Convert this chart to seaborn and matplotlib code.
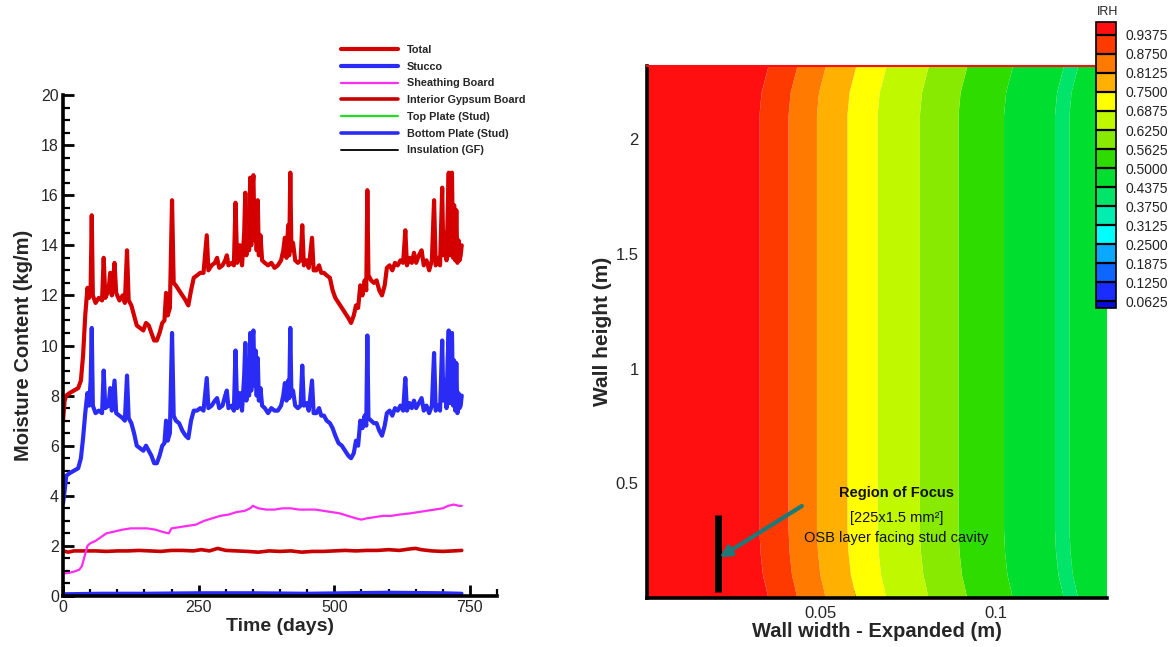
import numpy as np
import pandas as pd
import matplotlib
matplotlib.use("Agg")
import matplotlib.pyplot as plt
import seaborn as sns
from matplotlib.lines import Line2D
from matplotlib.ticker import MultipleLocator, FixedLocator, FuncFormatter
from matplotlib.colors import ListedColormap, BoundaryNorm
from matplotlib.cm import ScalarMappable

# ---------------- data: left panel (moisture content vs time) ----------------
days_main = [0, 3, 6, 12, 20, 28, 33, 37, 41, 45, 48, 51, 53, 55, 60, 66, 72, 75, 78, 84,
             87, 90, 95, 98, 104, 110, 114, 118, 121, 126, 131, 136, 142, 148, 153, 158, 163,
             168, 173, 178, 183, 187, 190, 193, 197, 201, 204, 208, 214, 220, 226, 231, 236,
             241, 247, 253, 259, 265, 268, 274, 280, 284, 288, 294, 299, 302, 305, 311, 315,
             318, 321, 326, 330, 334, 336, 338, 341, 343, 345, 347, 349, 351, 353, 355, 357,
             359, 361, 364, 367, 372, 378, 384, 390, 396, 402, 406, 409, 412, 415, 417, 419,
             421, 424, 428, 433, 438, 441, 444, 449, 453, 459, 462, 467, 472, 476, 481, 486,
             492, 497, 502, 508, 514, 520, 526, 531, 536, 540, 544, 548, 552, 556, 559, 561,
             563, 568, 573, 578, 583, 588, 593, 597, 602, 607, 612, 617, 622, 627, 631, 634,
             639, 643, 647, 651, 656, 661, 665, 670, 675, 680, 684, 687, 691, 695, 699, 701,
             704, 707, 709, 711, 713, 715, 717, 719, 721, 723, 725, 727, 729, 731, 733, 735]
total = [7.0, 7.8, 8.0, 8.1, 8.2, 8.3, 8.6, 9.6, 11.2, 12.3, 11.9, 12.4, 15.2, 12.0, 11.7, 11.9,
         11.8, 13.5, 11.9, 12.2, 12.9, 12.0, 13.3, 12.1, 11.8, 12.0, 11.7, 13.8, 11.8, 11.6,
         11.2, 10.8, 10.7, 10.6, 10.9, 10.8, 10.5, 10.2, 10.2, 10.5, 10.9, 11.0, 12.1, 11.2,
         11.5, 15.8, 12.5, 12.4, 12.2, 12.0, 11.8, 11.6, 12.2, 12.7, 12.8, 12.9, 12.9, 14.4,
         13.0, 13.2, 13.3, 13.5, 13.1, 13.2, 13.4, 13.6, 13.2, 13.3, 13.2, 15.7, 13.3, 14.0,
         13.2, 14.5, 16.1, 13.6, 15.2, 13.8, 16.7, 14.0, 16.2, 16.8, 14.2, 15.6, 13.8, 15.8,
         13.6, 14.4, 13.4, 13.3, 13.2, 13.3, 13.1, 13.2, 13.4, 13.8, 14.3, 13.5, 14.8, 13.6,
         16.9, 13.8, 14.1, 13.4, 13.3, 13.4, 14.8, 13.2, 13.4, 13.1, 14.3, 13.0, 13.0, 13.2,
         12.9, 12.9, 12.8, 12.7, 12.2, 11.9, 11.7, 11.5, 11.3, 11.1, 10.9, 11.2, 11.6, 11.5,
         12.4, 12.0, 12.6, 12.2, 16.2, 12.8, 12.6, 12.5, 12.6, 12.2, 12.0, 12.4, 13.1, 13.2,
         13.0, 13.3, 13.2, 13.4, 13.3, 14.6, 13.2, 13.5, 13.3, 13.7, 13.3, 13.6, 13.8, 13.2,
         13.4, 13.0, 13.4, 15.8, 13.2, 13.5, 13.2, 16.3, 13.6, 14.5, 13.4, 15.2, 16.9, 13.6,
         16.4, 16.9, 13.5, 15.6, 13.4, 15.4, 13.3, 14.2, 13.4, 13.6, 14.0]
stucco = [3.7, 4.2, 4.8, 4.9, 5.0, 5.1, 5.5, 6.3, 7.3, 8.1, 7.6, 8.6, 10.7, 7.6, 7.3, 7.4,
          7.3, 9.0, 7.5, 7.6, 8.3, 7.4, 8.6, 7.3, 7.2, 7.1, 7.0, 8.8, 7.1, 6.9,
          6.5, 6.0, 5.9, 5.8, 6.0, 5.8, 5.6, 5.3, 5.3, 5.6, 6.0, 6.1, 7.0, 6.2,
          6.5, 10.5, 7.2, 7.0, 6.9, 6.6, 6.4, 6.3, 7.0, 7.4, 7.4, 7.5, 7.4, 8.7,
          7.5, 7.6, 7.8, 7.9, 7.5, 7.6, 8.0, 8.2, 7.5, 7.6, 7.4, 9.8, 7.5, 8.1,
          7.4, 8.8, 10.1, 7.8, 9.4, 8.0, 10.5, 8.2, 10.2, 10.6, 8.4, 9.8, 8.0, 9.5,
          7.8, 8.3, 7.6, 7.5, 7.3, 7.5, 7.4, 7.4, 7.6, 8.0, 8.5, 7.8, 8.6, 7.9,
          10.7, 8.0, 8.2, 7.6, 7.5, 7.6, 9.2, 7.6, 7.7, 7.4, 8.6, 7.3, 7.3, 7.5,
          7.2, 7.2, 7.0, 6.9, 6.7, 6.4, 6.1, 6.0, 5.8, 5.6, 5.5, 5.7, 6.2, 6.0,
          7.0, 6.7, 7.2, 6.8, 10.4, 7.1, 7.0, 6.9, 6.9, 6.6, 6.4, 6.8, 7.3, 7.4,
          7.2, 7.5, 7.4, 7.6, 7.4, 8.7, 7.4, 7.7, 7.5, 7.8, 7.5, 7.7, 7.9, 7.4,
          7.6, 7.3, 7.6, 9.7, 7.4, 7.6, 7.4, 10.2, 7.8, 8.6, 7.5, 9.4, 10.6, 7.7,
          10.3, 10.5, 7.6, 9.4, 7.4, 9.3, 7.3, 8.1, 7.5, 7.6, 8.0]

days_sheath = [0, 10, 20, 30, 35, 40, 45, 50, 60, 70, 80, 90, 100, 110, 125, 140, 155, 170,
               185, 195, 200, 215, 230, 245, 260, 275, 290, 305, 320, 335, 345, 350, 360, 375,
               390, 405, 420, 435, 450, 465, 480, 495, 510, 525, 540, 550, 560, 575, 590, 605,
               620, 640, 655, 670, 685, 700, 710, 720, 730, 735]
sheathing = [0.9, 0.92, 0.97, 1.05, 1.2, 1.6, 2.0, 2.1, 2.2, 2.35, 2.5, 2.55, 2.6, 2.65, 2.7,
             2.7, 2.7, 2.65, 2.55, 2.5, 2.7, 2.75, 2.8, 2.85, 3.0, 3.1, 3.2, 3.25, 3.35, 3.4,
             3.5, 3.6, 3.5, 3.45, 3.45, 3.5, 3.5, 3.45, 3.45, 3.45, 3.4, 3.35, 3.3, 3.2, 3.1,
             3.05, 3.1, 3.15, 3.2, 3.2, 3.25, 3.3, 3.35, 3.4, 3.45, 3.5, 3.6, 3.65, 3.6, 3.6]

days_gyp = [0, 10, 20, 40, 60, 80, 100, 120, 140, 160, 180, 200, 220, 240, 255, 270, 285,
            300, 320, 340, 360, 380, 400, 420, 440, 460, 480, 500, 520, 540, 560, 580, 600,
            620, 640, 650, 660, 680, 700, 720, 735]
gypsum = [1.8, 1.75, 1.8, 1.8, 1.8, 1.78, 1.8, 1.8, 1.82, 1.8, 1.78, 1.82, 1.82, 1.8, 1.85,
          1.8, 1.9, 1.82, 1.8, 1.78, 1.75, 1.8, 1.78, 1.8, 1.75, 1.78, 1.78, 1.8, 1.82, 1.8,
          1.82, 1.82, 1.85, 1.82, 1.88, 1.9, 1.85, 1.8, 1.78, 1.8, 1.82]

days_small = [0, 70, 150, 250, 350, 450, 520, 600, 700, 735]
top_plate = [0.06, 0.07, 0.07, 0.08, 0.08, 0.08, 0.12, 0.1, 0.1, 0.08]
bottom_plate = [0.08, 0.1, 0.1, 0.12, 0.12, 0.1, 0.12, 0.14, 0.12, 0.1]
insulation = [0.04, 0.05, 0.05, 0.05, 0.05, 0.05, 0.05, 0.06, 0.05, 0.05]

series_names = ["Total", "Stucco", "Sheathing Board", "Interior Gypsum Board",
                "Top Plate (Stud)", "Bottom Plate (Stud)", "Insulation (GF)"]
series_colors = ["#d40000", "#2a2cf5", "#ff2cf2", "#c80000", "#22dd22", "#2a2cf5", "#111111"]
series_widths = [3.0, 3.0, 1.6, 2.6, 1.6, 2.6, 1.4]

# ---------------- data: right panel (IRH contour) ----------------
levels = [0.0, 0.0625, 0.125, 0.1875, 0.25, 0.3125, 0.375, 0.4375, 0.5,
          0.5625, 0.625, 0.6875, 0.75, 0.8125, 0.875, 0.9375, 1.0]
band_colors = ["#0a0adc", "#1a2cff", "#0c66ff", "#0aa8ff", "#00ffff", "#00eeb0",
               "#00e46a", "#00de30", "#2edc00", "#88ea00", "#c0f800", "#ffff00",
               "#ffb000", "#ff7a00", "#ff3a00", "#ff0f0f"]
prof_x = [0.0, 0.02, 0.0327, 0.0409, 0.049, 0.0577, 0.0663, 0.0784, 0.0894, 0.1024,
          0.117, 0.119, 0.121, 0.133]
prof_rh = [0.975, 0.955, 0.9375, 0.875, 0.8125, 0.75, 0.6875, 0.625, 0.5625, 0.5,
           0.4375, 0.42, 0.4375, 0.46]
shift_y = [0.0, 0.05, 0.1, 0.2, 0.3, 2.1, 2.2, 2.27, 2.33]
shift_v = [0.0025, 0.0018, 0.0010, 0.0003, 0.0, 0.0, 0.0006, 0.0018, 0.0028]
cbar_ticks = levels[1:-1]

# ---------------- figure ----------------
sns.set_theme(style="white")
plt.rcParams["font.family"] = ["Liberation Sans", "DejaVu Sans"]

W, H = 1175, 647
fig = plt.figure(figsize=(W / 100, H / 100), dpi=100)
fig.patch.set_facecolor("white")


def fx(px):
    return px / W


def fy(py):
    return 1 - py / H


# left panel
ax1 = fig.add_axes([fx(63), fy(596), fx(497) - fx(63), fy(95) - fy(596)])
xs_list = [days_small, days_small, days_small, days_gyp, days_sheath, days_main, days_main]
ys_list = [insulation, top_plate, bottom_plate, gypsum, sheathing, stucco, total]
idx_order = [6, 4, 5, 3, 2, 1, 0]
for d, v, i in zip(xs_list, ys_list, idx_order):
    sns.lineplot(x=d, y=v, ax=ax1, color=series_colors[i], linewidth=series_widths[i],
                 estimator=None, sort=False, legend=False)

ax1.set_xlim(0, 800)
ax1.set_ylim(0, 20)
ax1.xaxis.set_major_locator(FixedLocator([0, 250, 500, 750]))
ax1.xaxis.set_minor_locator(MultipleLocator(50))
ax1.yaxis.set_major_locator(MultipleLocator(2))
ax1.yaxis.set_minor_locator(MultipleLocator(0.5))
for s in ["top", "right"]:
    ax1.spines[s].set_visible(False)
for s in ["left", "bottom"]:
    ax1.spines[s].set_color("black")
    ax1.spines[s].set_linewidth(2.6)
ax1.tick_params(which="major", direction="in", length=8, width=2, color="black",
                labelsize=11.5, pad=3)
ax1.tick_params(which="minor", direction="in", length=5, width=1.6, color="black")
ax1.tick_params(axis="y", which="both", left=True)
ax1.tick_params(axis="x", which="both", bottom=True)
ax1.set_xlabel("Time (days)", fontsize=14, fontweight="bold", labelpad=2)
ax1.set_ylabel("Moisture Content (kg/m)", fontsize=14.5, fontweight="bold", labelpad=6)
ax1.set_facecolor("none")

handles = [Line2D([0], [0], color=c, lw=w) for c, w in zip(series_colors, series_widths)]
fig.legend(handles, series_names, loc="upper left", bbox_to_anchor=(fx(341), fy(45)),
           frameon=False, handlelength=5.3, handletextpad=0.8,
           labelspacing=0.62, borderpad=0, borderaxespad=0,
           prop={"size": 7.8, "weight": "bold"})

# right panel
ax2 = fig.add_axes([fx(647), fy(597.5), fx(1107) - fx(647), fy(66) - fy(597.5)])
xg = np.linspace(0, 0.1325, 500)
yg = np.linspace(0, 2.33, 300)
shift = np.interp(yg, shift_y, shift_v)
Z = np.interp(xg[None, :] - shift[:, None], prof_x, prof_rh)
ax2.contourf(xg, yg, Z, levels=levels, colors=band_colors, antialiased=True)
ax2.set_xlim(0.0005, 0.1318)
ax2.set_ylim(0.004, 2.316)
ax2.xaxis.set_major_locator(FixedLocator([0.05, 0.1]))
ax2.xaxis.set_minor_locator(MultipleLocator(0.01))
ax2.yaxis.set_major_locator(FixedLocator([0.5, 1.0, 1.5, 2.0]))
ax2.yaxis.set_minor_locator(MultipleLocator(0.1))
ax2.xaxis.set_major_formatter(FuncFormatter(lambda v, p: f"{v:g}"))
ax2.yaxis.set_major_formatter(FuncFormatter(lambda v, p: f"{v:g}"))
ax2.spines["right"].set_visible(False)
ax2.spines["top"].set_color("#ff1010")
ax2.spines["top"].set_linewidth(1.5)
for s in ["left", "bottom"]:
    ax2.spines[s].set_color("black")
    ax2.spines[s].set_linewidth(2.6)
ax2.tick_params(which="major", direction="in", length=8, width=2, color="black",
                labelsize=12, pad=6)
ax2.tick_params(which="minor", direction="in", length=5, width=1.6, color="black")
ax2.tick_params(axis="y", which="both", left=True)
ax2.tick_params(axis="x", which="both", bottom=True)
ax2.set_xlabel("Wall width - Expanded (m)", fontsize=14.5, fontweight="bold", labelpad=1)
ax2.set_ylabel("Wall height (m)", fontsize=15, fontweight="bold", labelpad=3)

# region of focus annotation
ax2.plot([0.0207, 0.0207], [0.03, 0.365], color="black", lw=5, solid_capstyle="butt")
ax2.annotate("", xy=(0.0212, 0.178), xytext=(0.0447, 0.402),
             arrowprops=dict(arrowstyle="-|>", color="#1d7a78", lw=3, mutation_scale=16,
                             shrinkA=0, shrinkB=0))
ax2.text(0.0717, 0.459, "Region of Focus", ha="center", va="center", fontsize=10.5,
         fontweight="bold", color="#111111")
ax2.text(0.0717, 0.35, "[225x1.5 mm²]", ha="center", va="center", fontsize=10.5,
         color="#111111")
ax2.text(0.0717, 0.263, "OSB layer facing stud cavity", ha="center", va="center",
         fontsize=10.5, color="#111111")

# colour legend
cax = fig.add_axes([fx(1096), fy(308), fx(1116) - fx(1096), fy(22) - fy(308)])
cmap = ListedColormap(band_colors)
bounds = [0.04] + list(cbar_ticks) + [0.98]
norm = BoundaryNorm(bounds, cmap.N)
sm = ScalarMappable(norm=norm, cmap=cmap)
cb = fig.colorbar(sm, cax=cax, drawedges=True, ticks=cbar_ticks, spacing="proportional")
cb.dividers.set_color("black")
cb.dividers.set_linewidth(1.6)
cb.outline.set_edgecolor("black")
cb.outline.set_linewidth(1.2)
cb.minorticks_off()
cax.yaxis.set_minor_locator(FixedLocator([]))
cax.set_yticklabels([f"{v:.4f}" for v in cbar_ticks])
cax.tick_params(which="both", length=0, labelsize=10, pad=7, colors="#222222")
fig.text(fx(1108), fy(12), "IRH", ha="center", va="center", fontsize=9, color="#222222")

fig.savefig("out.png", dpi=100, facecolor="white")
